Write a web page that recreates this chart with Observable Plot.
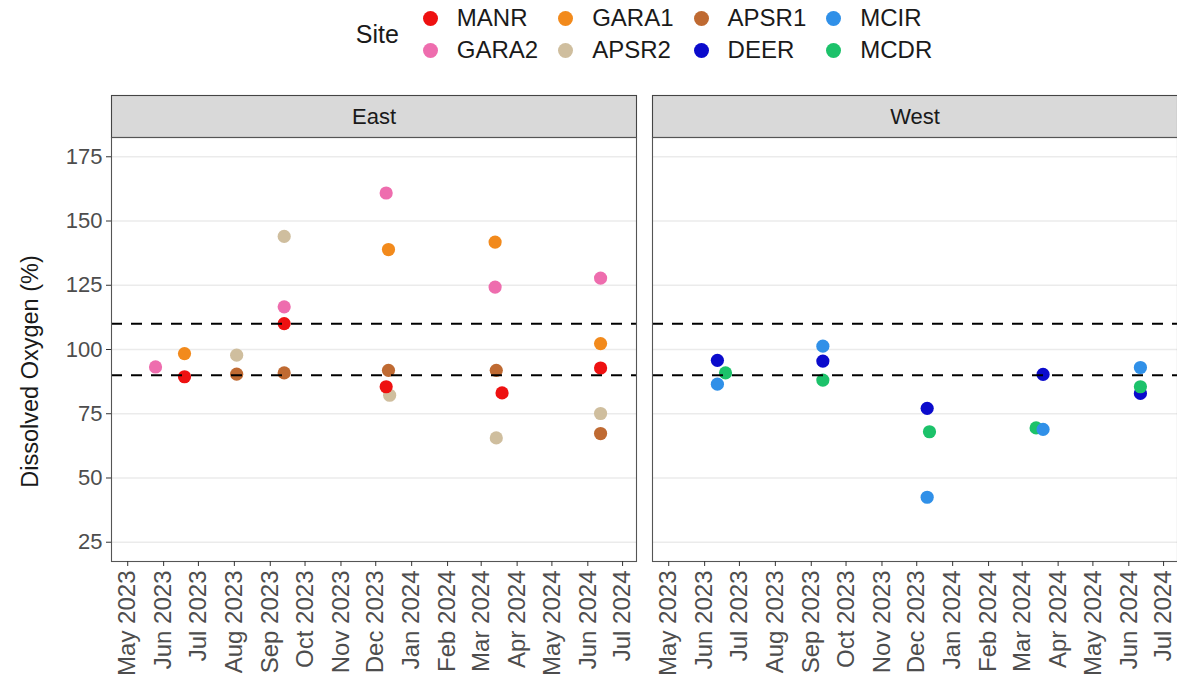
<!DOCTYPE html>
<html>
<head>
<meta charset="utf-8">
<script src="https://cdn.jsdelivr.net/npm/d3@7"></script>
<script src="https://cdn.jsdelivr.net/npm/@observablehq/plot@0.6"></script>
<style>
  html, body { margin: 0; padding: 0; background: #fff; }
  body { width: 1177px; height: 691px; overflow: hidden; font-family: "Liberation Sans", Arial, sans-serif; }
  #legend { height: 80px; box-sizing: border-box; padding: 2px 0 0 111px; display: flex; justify-content: center; align-items: flex-start; }
  #legend .title { font-size: 25px; color: #1A1A1A; height: 64px; line-height: 64px; margin-right: 24px; }
  #legend .grid { display: grid; grid-template-rows: 32px 32px; grid-auto-flow: column; column-gap: 20px; }
  #legend .item { display: flex; align-items: center; }
  #legend .key { width: 15px; height: 15px; border-radius: 50%; margin: 0 19px 0 0; }
  #legend .lab { font-size: 24px; color: #1A1A1A; }
  #chart svg { display: block; }
</style>
</head>
<body>
<div id="legend"></div>
<div id="chart"></div>
<script>
// ---- data ----
const sites = ["MANR", "GARA2", "GARA1", "APSR2", "APSR1", "DEER", "MCIR", "MCDR"];
const siteColors = ["#EE1111", "#EE6DAE", "#F28A1C", "#CFBE9E", "#BF6A32", "#0B0BCC", "#3090E8", "#1CC26A"];
const siteRegion = ["East", "East", "East", "East", "East", "West", "West", "West"];
const regions = ["East", "West"];

// observations per site (drawn in alphabetical site order)
const APSR1_dates = ["2023-08-03", "2023-09-13", "2023-12-12", "2024-03-14", "2024-06-12"];
const APSR1_do    = [90.4, 90.9, 91.9, 91.9, 67.3];
const APSR2_dates = ["2023-08-03", "2023-09-13", "2023-12-13", "2024-03-14", "2024-06-12"];
const APSR2_do    = [97.8, 144.0, 82.2, 65.6, 75.1];
const DEER_dates  = ["2023-06-12", "2023-09-11", "2023-12-10", "2024-03-19", "2024-06-11"];
const DEER_do     = [95.8, 95.5, 77.1, 90.3, 82.9];
const GARA1_dates = ["2023-06-19", "2023-12-12", "2024-03-13", "2024-06-12"];
const GARA1_do    = [98.4, 138.9, 141.8, 102.3];
const GARA2_dates = ["2023-05-25", "2023-09-13", "2023-12-10", "2024-03-13", "2024-06-12"];
const GARA2_do    = [93.2, 116.6, 160.9, 124.3, 127.8];
const MANR_dates  = ["2023-06-19", "2023-09-13", "2023-12-10", "2024-03-19", "2024-06-12"];
const MANR_do     = [89.4, 110.1, 85.5, 83.1, 92.8];
const MCDR_dates  = ["2023-06-19", "2023-09-11", "2023-12-12", "2024-03-13", "2024-06-11"];
const MCDR_do     = [90.9, 88.1, 68.0, 69.5, 85.5];
const MCIR_dates  = ["2023-06-12", "2023-09-11", "2023-12-10", "2024-03-19", "2024-06-11"];
const MCIR_do     = [86.5, 101.3, 42.5, 68.9, 93.0];

const thresholds = [90, 110];
const yTicks = [25, 50, 75, 100, 125, 150, 175];
const yDomain = [17.5, 182.5];
const xDomainDates = ["2023-04-17", "2024-07-13"];
const xTickMonths = ["2023-05-01", "2023-06-01", "2023-07-01", "2023-08-01", "2023-09-01", "2023-10-01",
  "2023-11-01", "2023-12-01", "2024-01-01", "2024-02-01", "2024-03-01", "2024-04-01", "2024-05-01",
  "2024-06-01", "2024-07-01"];
const yTitle = "Dissolved Oxygen (%)";
const legendTitle = "Site";

// ---- table ----
const series = [
  ["APSR1", APSR1_dates, APSR1_do], ["APSR2", APSR2_dates, APSR2_do], ["DEER", DEER_dates, DEER_do],
  ["GARA1", GARA1_dates, GARA1_do], ["GARA2", GARA2_dates, GARA2_do], ["MANR", MANR_dates, MANR_do],
  ["MCDR", MCDR_dates, MCDR_do], ["MCIR", MCIR_dates, MCIR_do]
];
const obs = [];
for (const [site, dates, vals] of series) {
  const region = siteRegion[sites.indexOf(site)];
  dates.forEach((d, i) => obs.push({site, region, date: new Date(d), value: vals[i]}));
}

// ---- legend ----
const legend = document.getElementById("legend");
const lt = document.createElement("div"); lt.className = "title"; lt.textContent = legendTitle; legend.appendChild(lt);
const grid = document.createElement("div"); grid.className = "grid"; legend.appendChild(grid);
sites.forEach((s, i) => {
  const it = document.createElement("div"); it.className = "item";
  const k = document.createElement("span"); k.className = "key"; k.style.background = siteColors[i];
  const l = document.createElement("span"); l.className = "lab"; l.textContent = s;
  it.appendChild(k); it.appendChild(l); grid.appendChild(it);
});

// ---- chart ----
const font = '"Liberation Sans", Arial, sans-serif';
const stripH = 42;
const stripMark = Plot.frame({
  fill: "#D9D9D9", stroke: "#444444", strokeWidth: 1.1,
  render(index, scales, values, dims, context, next) {
    const el = next(index, scales, values, dims, context);
    const rect = el.tagName.toLowerCase() === "rect" ? el : el.querySelector("rect");
    if (rect) { rect.setAttribute("y", dims.marginTop - stripH); rect.setAttribute("height", stripH); }
    return el;
  }
});

const chart = Plot.plot({
  width: 1177, height: 611,
  marginLeft: 111, marginRight: 0, marginTop: 57, marginBottom: 130,
  style: {fontFamily: font, background: "white", overflow: "visible"},
  fx: {domain: regions, paddingInner: 0.0296, paddingOuter: 0, axis: null, label: null},
  x: {type: "utc", domain: xDomainDates.map(d => new Date(d))},
  y: {domain: yDomain},
  color: {domain: sites, range: siteColors},
  marks: [
    Plot.gridY(yTicks, {stroke: "#EBEBEB", strokeOpacity: 1, strokeWidth: 1.5}),
    stripMark,
    Plot.text(regions, {fx: d => d, text: d => d, frameAnchor: "top", dy: -21, lineAnchor: "middle", fontSize: 22, fill: "#1A1A1A"}),
    Plot.dot(obs, {x: "date", y: "value", fx: "region", fill: "site", r: 6.6}),
    Plot.ruleY(thresholds, {stroke: "#000", strokeWidth: 2, strokeDasharray: "11,9"}),
    Plot.frame({stroke: "#555555", strokeWidth: 1.1}),
    Plot.axisY(yTicks, {tickSize: 5, tickPadding: 4, fontSize: 22, fill: "#4D4D4D", stroke: "#333333", label: null}),
    Plot.axisX(xTickMonths.map(d => new Date(d)), {tickFormat: d3.utcFormat("%b %Y"), tickRotate: -90, tickSize: 5, tickPadding: 4, fontSize: 24, fill: "#4D4D4D", stroke: "#333333", label: null}),
    Plot.text([yTitle], {fx: ["East"], text: d => d, frameAnchor: "left", textAnchor: "middle", lineAnchor: "middle", rotate: -90, dx: -81, dy: 22, fontSize: 23.5, fill: "#1A1A1A"})
  ]
});
document.getElementById("chart").appendChild(chart);
</script>
</body>
</html>
